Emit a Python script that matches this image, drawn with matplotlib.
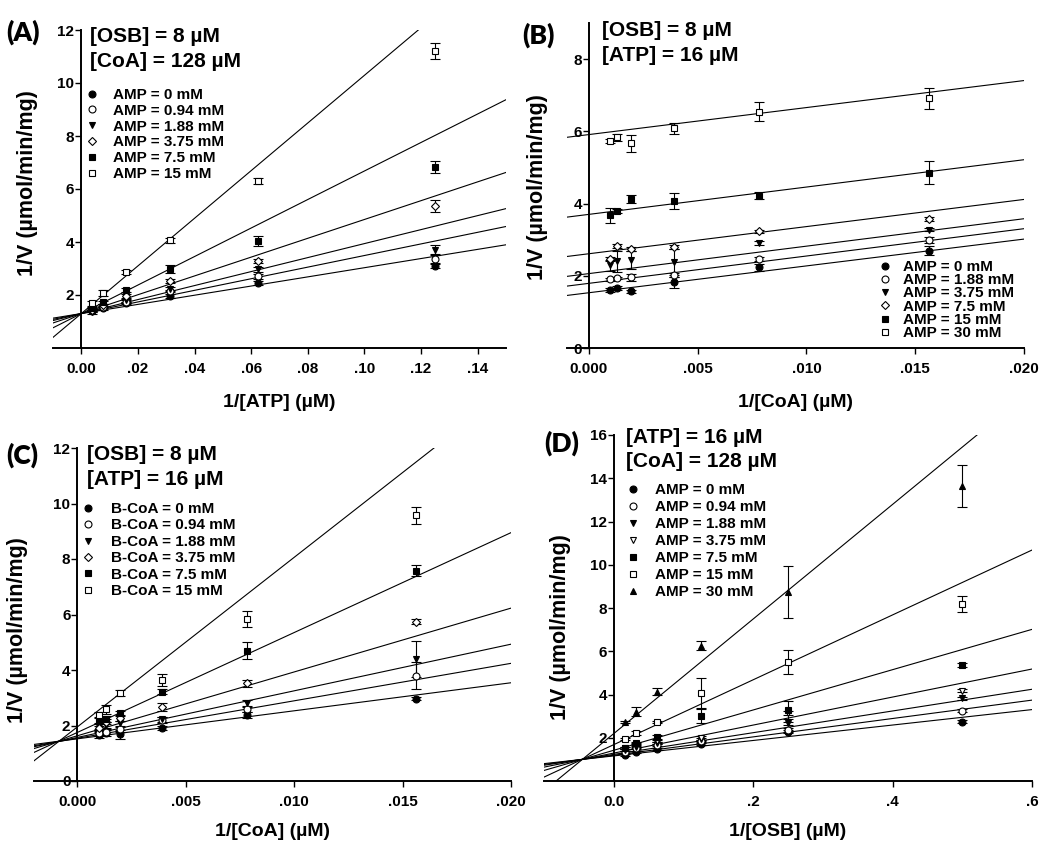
import matplotlib
matplotlib.use("Agg")
import matplotlib.pyplot as plt
import numpy as np

plt.rcParams['font.family'] = ['Liberation Sans', 'DejaVu Sans']
plt.rcParams['font.weight'] = 'bold'

# ---------------- data ----------------
# Panel A: 1/[ATP]
a_x = [1/256, 1/128, 1/64, 1/32, 1/16, 1/8]
a_labels = ['AMP = 0 mM', 'AMP = 0.94 mM', 'AMP = 1.88 mM', 'AMP = 3.75 mM', 'AMP = 7.5 mM', 'AMP = 15 mM']
a_y = [[1.40, 1.50, 1.70, 1.95, 2.45, 3.10],
       [1.42, 1.55, 1.75, 2.15, 2.70, 3.36],
       [1.35, 1.60, 1.80, 2.22, 2.97, 3.71],
       [1.45, 1.62, 1.95, 2.52, 3.27, 5.35],
       [1.50, 1.72, 2.20, 2.97, 4.03, 6.82],
       [1.68, 2.08, 2.86, 4.06, 6.29, 11.22]]
a_err = [[0.05, 0.05, 0.05, 0.08, 0.08, 0.08],
         [0.05, 0.05, 0.05, 0.05, 0.10, 0.15],
         [0.05, 0.05, 0.05, 0.08, 0.10, 0.18],
         [0.05, 0.05, 0.08, 0.08, 0.08, 0.22],
         [0.05, 0.05, 0.08, 0.15, 0.18, 0.22],
         [0.08, 0.10, 0.08, 0.08, 0.12, 0.30]]
a_int = [1.30, 1.30, 1.30, 1.30, 1.30, 1.30]
a_slope = [17.3, 21.9, 26.4, 35.5, 53.8, 89.9]

# Panel B: 1/[CoA]
b_x = [1/1024, 1/768, 1/512, 1/256, 1/128, 1/64]
b_labels = ['AMP = 0 mM', 'AMP = 1.88 mM', 'AMP = 3.75 mM', 'AMP = 7.5 mM', 'AMP = 15 mM', 'AMP = 30 mM']
b_y = [[1.61, 1.67, 1.57, 1.82, 2.24, 2.70],
       [1.90, 1.94, 1.96, 2.03, 2.47, 3.00],
       [2.29, 2.40, 2.44, 2.38, 2.90, 3.28],
       [2.47, 2.82, 2.75, 2.79, 3.23, 3.58],
       [3.67, 3.79, 4.13, 4.08, 4.22, 4.85],
       [5.74, 5.83, 5.67, 6.09, 6.54, 6.91]]
b_err = [[0.05, 0.05, 0.05, 0.15, 0.10, 0.12],
         [0.05, 0.04, 0.10, 0.05, 0.05, 0.08],
         [0.15, 0.30, 0.25, 0.35, 0.05, 0.05],
         [0.05, 0.05, 0.05, 0.05, 0.05, 0.05],
         [0.20, 0.05, 0.12, 0.22, 0.10, 0.32],
         [0.06, 0.10, 0.23, 0.15, 0.26, 0.29]]
b_int = [1.53, 1.79, 2.06, 2.61, 3.70, 5.91]
b_slope = [74.3, 75.7, 76.0, 75.2, 75.7, 74.8]

# Panel C: 1/[CoA], B-CoA inhibitor
c_x = [1/1024, 1/768, 1/512, 1/256, 1/128, 1/64]
c_labels = ['B-CoA = 0 mM', 'B-CoA = 0.94 mM', 'B-CoA = 1.88 mM', 'B-CoA = 3.75 mM', 'B-CoA = 7.5 mM', 'B-CoA = 15 mM']
c_y = [[1.66, 1.72, 1.68, 1.90, 2.38, 2.96],
       [1.72, 1.78, 1.86, 2.20, 2.58, 3.80],
       [1.96, 2.02, 2.08, 2.22, 2.82, 4.39],
       [1.90, 2.14, 2.28, 2.66, 3.52, 5.74],
       [2.20, 2.24, 2.44, 3.22, 4.70, 7.57],
       [2.38, 2.58, 3.18, 3.64, 5.84, 9.57]]
c_err = [[0.10, 0.10, 0.15, 0.08, 0.12, 0.05],
         [0.10, 0.10, 0.10, 0.10, 0.10, 0.50],
         [0.10, 0.10, 0.10, 0.10, 0.10, 0.65],
         [0.10, 0.10, 0.10, 0.15, 0.12, 0.10],
         [0.10, 0.10, 0.10, 0.10, 0.30, 0.20],
         [0.10, 0.15, 0.10, 0.20, 0.30, 0.30]]
c_int = [1.52, 1.54, 1.57, 1.63, 1.75, 1.95]
c_slope = [101, 135, 168, 230, 360, 611]

# Panel D: 1/[OSB]
d_x = [1/64, 1/32, 1/16, 1/8, 1/4, 1/2]
d_labels = ['AMP = 0 mM', 'AMP = 0.94 mM', 'AMP = 1.88 mM', 'AMP = 3.75 mM', 'AMP = 7.5 mM', 'AMP = 15 mM', 'AMP = 30 mM']
d_y = [[1.20, 1.36, 1.48, 1.71, 2.28, 2.74],
       [1.36, 1.51, 1.66, 1.86, 2.36, 3.25],
       [1.43, 1.59, 1.74, 1.93, 2.67, 3.82],
       [1.51, 1.71, 1.85, 1.97, 3.13, 4.18],
       [1.51, 1.77, 2.02, 3.00, 3.28, 5.36],
       [1.94, 2.23, 2.71, 4.05, 5.49, 8.17],
       [2.71, 3.20, 4.13, 6.26, 8.75, 13.65]]
d_err = [[0.05, 0.05, 0.05, 0.05, 0.08, 0.06],
         [0.05, 0.05, 0.05, 0.05, 0.10, 0.06],
         [0.05, 0.05, 0.05, 0.05, 0.08, 0.06],
         [0.05, 0.05, 0.05, 0.10, 0.10, 0.08],
         [0.05, 0.05, 0.10, 0.33, 0.40, 0.08],
         [0.05, 0.08, 0.05, 0.69, 0.56, 0.37],
         [0.05, 0.20, 0.15, 0.20, 1.20, 0.97]]
d_int = [1.16, 1.19, 1.23, 1.29, 1.42, 1.68, 2.19]
d_slope = [3.57, 4.25, 5.02, 6.48, 9.32, 15.0, 26.5]

# marker styles (marker, filled)
styles6 = [('o', True), ('o', False), ('v', True), ('D', False), ('s', True), ('s', False)]
styles7 = [('o', True), ('o', False), ('v', True), ('v', False), ('s', True), ('s', False), ('^', True)]

W, H = 1050, 857
fig = plt.figure(figsize=(W / 100, H / 100), dpi=100)


def frac_rect(l, r, t, b):
    return [l / W, 1 - b / H, (r - l) / W, (b - t) / H]


def draw_panel(rect, xs, ys, errs, ints, slopes, labels, styles, xlim, ylim,
               xticks, xticklabels, yticks, xlabel, ylab_xy, xlab_xy,
               leg_anchor, leg_pad, leg_space):
    ax = fig.add_axes(rect)
    ax.set_xlim(*xlim)
    ax.set_ylim(*ylim)
    xx = np.array(xlim)
    handles = []
    for i in range(len(ys)):
        ax.plot(xx, ints[i] + slopes[i] * xx, color='black', lw=0.8, zorder=2)
    for i in range(len(ys)):
        m, filled = styles[i]
        ms = 4.5 if m in ('D',) else 5
        ax.errorbar(xs, ys[i], yerr=errs[i], fmt=m, ms=ms,
                    mfc='black' if filled else 'white', mec='black', mew=0.8,
                    ecolor='black', elinewidth=0.8, capsize=3.5, capthick=0.8,
                    zorder=3)
        handles.append(ax.plot([], [], m, ms=ms, mfc='black' if filled else 'white',
                               mec='black', mew=0.8, ls='none')[0])
    for s in ('top', 'right'):
        ax.spines[s].set_visible(False)
    ax.spines['left'].set_position(('data', 0))
    ax.spines['left'].set_linewidth(1.4)
    ax.spines['bottom'].set_linewidth(1.4)
    ax.set_xticks(xticks)
    ax.set_xticklabels(xticklabels)
    ax.set_yticks(yticks)
    ax.set_yticklabels([str(v) for v in yticks])
    ax.tick_params(axis='x', direction='out', length=4, width=1, pad=6, labelsize=11)
    ax.tick_params(axis='y', direction='out', length=4, width=1, pad=1, labelsize=11)
    ax.set_xlabel(xlabel, fontsize=14, fontweight='bold')
    ax.set_ylabel('1/V (µmol/min/mg)', fontsize=15.5, fontweight='bold')
    ax.yaxis.set_label_coords(*ylab_xy)
    ax.xaxis.set_label_coords(*xlab_xy)
    ax.legend(handles, labels, loc='upper left', bbox_to_anchor=leg_anchor,
              bbox_transform=fig.transFigure, frameon=False, borderpad=0,
              handlelength=1.0, handletextpad=leg_pad, labelspacing=leg_space,
              borderaxespad=0, prop={'weight': 'bold', 'size': 11})
    return ax


# Panel A
draw_panel(frac_rect(53, 506, 30, 348), a_x, a_y, a_err, a_int, a_slope, a_labels, styles6,
           (-0.01, 0.15), (0, 12),
           [0, .02, .04, .06, .08, .10, .12, .14],
           ['0.00', '.02', '.04', '.06', '.08', '.10', '.12', '.14'],
           [2, 4, 6, 8, 10, 12], '1/[ATP] (µM)',
           (-0.033, 0.52), (0.5, -0.145),
           ((92 - 7.6) / W, 1 - 88 / H), 0.88, 0.12)

# Panel B
draw_panel(frac_rect(567, 1024, 23, 348), b_x, b_y, b_err, b_int, b_slope, b_labels, styles6,
           (-0.001, 0.020), (0, 9),
           [0, .005, .010, .015, .020],
           ['0.000', '.005', '.010', '.015', '.020'],
           [0, 2, 4, 6, 8], '1/[CoA] (µM)',
           (-0.042, 0.495), (0.5, -0.142),
           ((885 - 7.6) / W, 1 - 260 / H), 0.68, -0.05)

# Panel C
draw_panel(frac_rect(34, 511, 448, 781), c_x, c_y, c_err, c_int, c_slope, c_labels, styles6,
           (-0.002, 0.020), (0, 12),
           [0, .005, .010, .015, .020],
           ['0.000', '.005', '.010', '.015', '.020'],
           [0, 2, 4, 6, 8, 10, 12], '1/[CoA] (µM)',
           (-0.013, 0.453), (0.5, -0.125),
           ((88 - 7.6) / W, 1 - 502 / H), 1.0, 0.16)

# Panel D
draw_panel(frac_rect(544, 1032, 435, 781), d_x, d_y, d_err, d_int, d_slope, d_labels, styles7,
           (-0.1, 0.6), (0, 16),
           [0, .2, .4, .6],
           ['0.0', '.2', '.4', '.6'],
           [2, 4, 6, 8, 10, 12, 14, 16], '1/[OSB] (µM)',
           (0.055, 0.445), (0.5, -0.12),
           ((633 - 7.6) / W, 1 - 483 / H), 0.95, 0.2)

# panel letters
for lab, px, py in [('(A)', 6, 19), ('(B)', 522, 22), ('(C)', 6, 442), ('(D)', 544, 430)]:
    fig.text(px / W, 1 - py / H, lab, fontsize=19, fontweight='heavy', va='top', ha='left',
             family=['Lato', 'DejaVu Sans'])

# condition annotations
for txt, px, py in [('[OSB] = 8 µM', 90, 27), ('[CoA] = 128 µM', 90, 52),
                    ('[OSB] = 8 µM', 602, 21), ('[ATP] = 16 µM', 602, 46),
                    ('[OSB] = 8 µM', 87, 445), ('[ATP] = 16 µM', 87, 470),
                    ('[ATP] = 16 µM', 626, 428), ('[CoA] = 128 µM', 626, 452)]:
    fig.text(px / W, 1 - py / H, txt, fontsize=15, fontweight='bold', va='top', ha='left')

fig.savefig('out.png', dpi=100)
